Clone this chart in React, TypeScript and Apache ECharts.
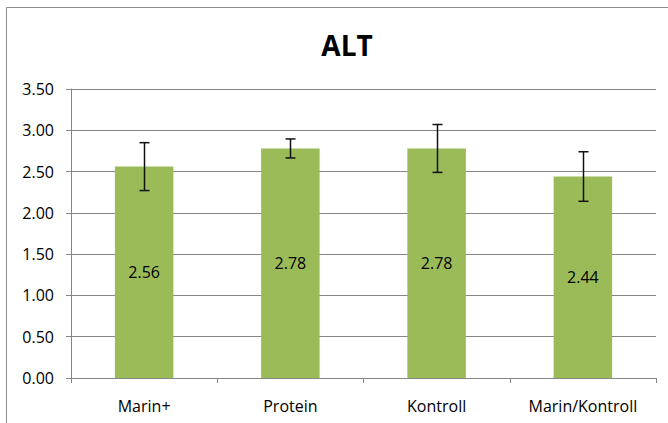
import React, { useEffect, useRef } from "react";
import * as echarts from "echarts";

const categories = ["Marin+", "Protein", "Kontroll", "Marin/Kontroll"];
const values = [2.56, 2.78, 2.78, 2.44];
const errors = [0.29, 0.115, 0.29, 0.3];
const yTicks = [0, 0.5, 1, 1.5, 2, 2.5, 3, 3.5];

export default function App() {
  const ref = useRef<HTMLDivElement>(null);
  useEffect(() => {
    if (!ref.current) return;
    const chart = echarts.init(ref.current, undefined, { renderer: "svg" });
    const font = "'Open Sans', sans-serif";
    chart.setOption({
      animation: false,
      backgroundColor: "#ffffff",
      title: {
        text: "ALT",
        left: 342,
        top: 26,
        textAlign: "center",
        textStyle: { fontFamily: font, fontSize: 28, fontWeight: "bold", color: "#000" },
      },
      graphic: [
        {
          type: "rect",
          shape: { x: 6.5, y: 7.5, width: 700, height: 500 },
          style: { fill: "none", stroke: "#8c8c8c", lineWidth: 1 },
          silent: true,
        },
      ],
      grid: { left: 71, right: 12, top: 89, bottom: 45, containLabel: false },
      xAxis: {
        type: "category",
        data: categories,
        axisLine: { show: true, lineStyle: { color: "#868686" } },
        axisTick: { show: true, length: 5, alignWithLabel: false, lineStyle: { color: "#868686" } },
        axisLabel: { fontFamily: font, fontSize: 16, color: "#000", margin: 20 },
      },
      yAxis: {
        type: "value",
        min: 0,
        max: 3.5,
        interval: 0.5,
        axisLine: { show: true, lineStyle: { color: "#868686" } },
        axisTick: { show: true, length: 5, lineStyle: { color: "#868686" } },
        axisLabel: {
          fontFamily: font,
          fontSize: 16,
          color: "#000",
          margin: 17,
          formatter: (v: number) => (yTicks.includes(v) ? v.toFixed(2) : ""),
        },
        splitLine: { show: true, lineStyle: { color: "#868686", width: 1 } },
      },
      series: [
        {
          type: "bar",
          data: values,
          barWidth: "40%",
          itemStyle: { color: "#9bbb59" },
          label: {
            show: true,
            position: "inside",
            fontFamily: font,
            fontSize: 16,
            color: "#000",
            formatter: (p: any) => Number(p.value).toFixed(2),
          },
          z: 2,
        },
        {
          type: "custom",
          data: values.map((v, i) => [i, v - errors[i], v + errors[i]]),
          z: 5,
          renderItem: (params: any, api: any) => {
            const i = api.value(0);
            const lo = api.coord([i, api.value(1)]);
            const hi = api.coord([i, api.value(2)]);
            const x = Math.round(lo[0]) + 0.5;
            const hw = 5;
            const style = { stroke: "#111", lineWidth: 1.5 };
            return {
              type: "group",
              children: [
                { type: "line", shape: { x1: x, y1: hi[1], x2: x, y2: lo[1] }, style },
                { type: "line", shape: { x1: x - hw, y1: hi[1], x2: x + hw, y2: hi[1] }, style },
                { type: "line", shape: { x1: x - hw, y1: lo[1], x2: x + hw, y2: lo[1] }, style },
              ],
            };
          },
        },
      ],
    });
    return () => chart.dispose();
  }, []);
  return (
    <div
      ref={ref}
      style={{ position: "fixed", left: 0, top: 0, width: 668, height: 423 }}
    />
  );
}
